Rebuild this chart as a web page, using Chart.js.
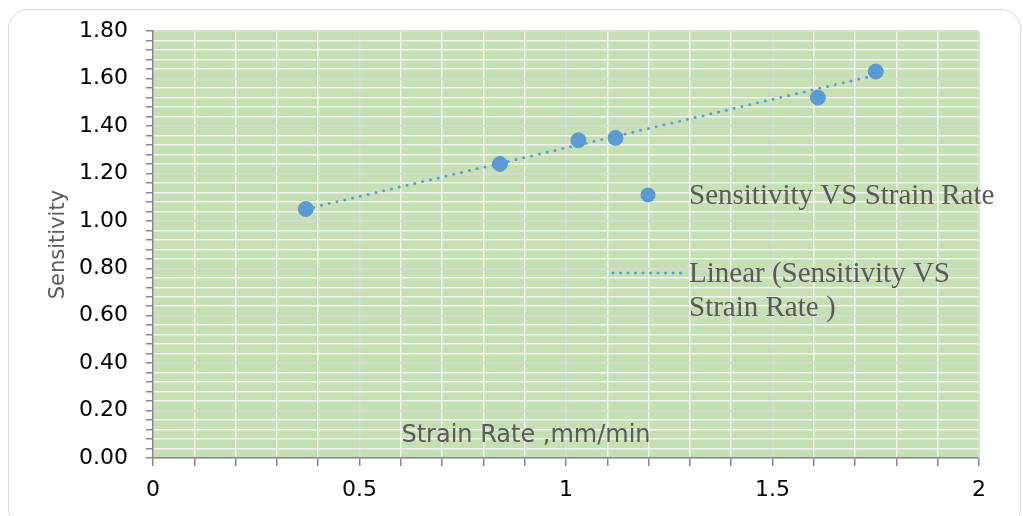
<!DOCTYPE html>
<html>
<head>
<meta charset="utf-8">
<script src="https://cdn.jsdelivr.net/npm/chart.js@4.4.1/dist/chart.umd.min.js"></script>
<style>
  html, body { margin: 0; padding: 0; background: #fff; overflow: hidden; }
  .card {
    position: absolute; left: 8px; top: 9px; width: 1013px; height: 520px;
    border: 1.5px solid #d9d9d9; border-radius: 20px; box-sizing: border-box;
  }
  .wrap { position: absolute; left: 0; top: 0; width: 1023px; height: 516px; }
</style>
</head>
<body>
<div class="card"></div>
<div class="wrap"><canvas id="chart" width="1023" height="516"></canvas></div>
<script>
// values
const strainRate = [0.37, 0.84, 1.03, 1.12, 1.61, 1.75];
const sensitivity = [1.05, 1.24, 1.34, 1.35, 1.52, 1.63];
const trendX = [0.37, 1.75];
const trendY = [1.05, 1.615];

const seriesName = "Sensitivity VS Strain Rate";
const trendName = ["Linear (Sensitivity VS", "Strain Rate )"];
const xTitle = "Strain Rate ,mm/min";
const yTitle = "Sensitivity";

const blue = "#5b9bd5";
const axisGrey = "#868686";
const textGrey = "#595959";
const sans = "'DejaVu Sans', sans-serif";

const isMult = (v, step) => Math.abs(v / step - Math.round(v / step)) < 1e-6;

const plotBackground = {
  id: "plotBackground",
  beforeDraw(chart) {
    const { ctx, chartArea: a } = chart;
    ctx.save();
    ctx.fillStyle = "#c6e0b4";
    ctx.fillRect(a.left, a.top, a.right - a.left, a.bottom - a.top);
    ctx.restore();
  },
  afterDraw(chart) {
    const { ctx, chartArea: a } = chart;
    ctx.save();
    // right edge of plot area
    ctx.strokeStyle = "#d9d9d9";
    ctx.lineWidth = 1.5;
    ctx.beginPath();
    ctx.moveTo(a.right, a.top);
    ctx.lineTo(a.right, a.bottom);
    ctx.stroke();

    // x axis title sits inside the plot
    ctx.fillStyle = textGrey;
    ctx.font = "24px " + sans;
    ctx.textAlign = "center";
    ctx.textBaseline = "middle";
    ctx.fillText(xTitle, 526, 436);

    // legend inside the plot
    ctx.fillStyle = blue;
    ctx.beginPath();
    ctx.arc(648, 195, 7.5, 0, Math.PI * 2);
    ctx.fill();

    ctx.strokeStyle = blue;
    ctx.lineWidth = 3;
    ctx.lineCap = "round";
    ctx.setLineDash([0, 7.5]);
    ctx.beginPath();
    ctx.moveTo(613, 273);
    ctx.lineTo(684, 273);
    ctx.stroke();
    ctx.setLineDash([]);

    ctx.fillStyle = textGrey;
    ctx.font = "29px 'Liberation Serif', serif";
    ctx.textAlign = "left";
    ctx.fillText(seriesName, 689, 196);
    ctx.fillText(trendName[0], 689, 274);
    ctx.fillText(trendName[1], 689, 308);
    ctx.restore();
  }
};

new Chart(document.getElementById("chart"), {
  type: "scatter",
  data: {
    datasets: [
      {
        label: trendName.join(" "),
        type: "line",
        data: trendX.map((x, i) => ({ x, y: trendY[i] })),
        borderColor: blue,
        borderWidth: 3,
        borderDash: [0, 8],
        borderCapStyle: "round",
        pointRadius: 0,
        fill: false,
        order: 2
      },
      {
        label: seriesName,
        data: strainRate.map((x, i) => ({ x, y: sensitivity[i] })),
        backgroundColor: blue,
        borderColor: blue,
        pointRadius: 7.5,
        order: 1
      }
    ]
  },
  options: {
    responsive: false,
    animation: false,
    layout: { padding: { top: 29, right: 44, bottom: 0, left: 0 } },
    plugins: { legend: { display: false }, tooltip: { enabled: false } },
    scales: {
      x: {
        type: "linear",
        min: 0,
        max: 2,
        afterFit: (s) => { s.height = 58; },
        afterBuildTicks: (s) => {
          const t = [];
          for (let i = 0; i <= 20; i++) t.push({ value: i / 10 });
          s.ticks = t;
        },
        ticks: {
          autoSkip: false,
          maxRotation: 0,
          color: "#000",
          font: { size: 22, family: sans },
          padding: 11,
          callback: (v) => (isMult(v, 0.5) ? String(v) : "")
        },
        grid: {
          drawTicks: true,
          tickLength: 8,
          tickColor: axisGrey,
          lineWidth: 1.5,
          color: (c) => (isMult(c.tick.value, 0.5) ? "#d9d9d9" : "#f2f2f2")
        },
        border: { display: true, color: axisGrey, width: 1.5 }
      },
      y: {
        min: 0,
        max: 1.8,
        afterFit: (s) => { s.width = 153; },
        afterBuildTicks: (s) => {
          const t = [];
          for (let i = 0; i <= 45; i++) t.push({ value: i * 0.04 });
          s.ticks = t;
        },
        ticks: {
          autoSkip: false,
          color: "#000",
          font: { size: 22, family: sans },
          padding: 18,
          callback: (v) => (isMult(v, 0.2) ? v.toFixed(2) : "")
        },
        title: {
          display: true,
          text: yTitle,
          color: textGrey,
          font: { size: 21, family: sans },
          padding: { top: 46, bottom: 0 }
        },
        grid: {
          drawTicks: true,
          tickLength: 7,
          tickColor: axisGrey,
          lineWidth: 1.5,
          color: (c) => (isMult(c.tick.value, 0.2) ? "#d9d9d9" : "#f2f2f2")
        },
        border: { display: true, color: axisGrey, width: 1.5 }
      }
    }
  },
  plugins: [plotBackground]
});
</script>
</body>
</html>
